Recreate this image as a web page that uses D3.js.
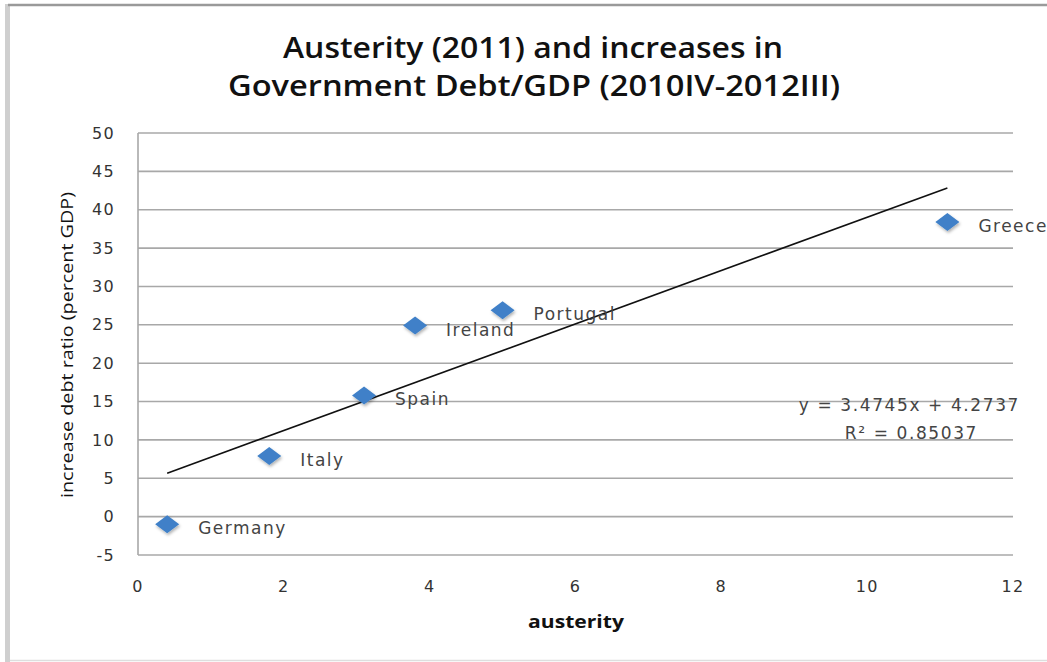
<!DOCTYPE html>
<meta charset="utf-8">
<style>
  body { margin: 0; background: #fff; }
  svg { display: block; }
  .grid line { stroke: #a8a8a8; stroke-width: 1.6px; }
  .tick-label { font-family: "DejaVu Sans", sans-serif; font-size: 16px; fill: #333; letter-spacing: 1.3px; }
  .title { font-family: "Open Sans", sans-serif; font-weight: 600; font-size: 29px; fill: #111; }
  .axis-title { font-family: "Open Sans", sans-serif; font-size: 17px; fill: #111; }
  .point-label { font-family: "DejaVu Sans", sans-serif; font-size: 17px; fill: #444; letter-spacing: 1.5px; }
  .trend { fill: none; stroke: #111; stroke-width: 1.6px; }
  .eq { font-family: "DejaVu Sans", sans-serif; font-size: 17px; fill: #444; letter-spacing: 1.6px; }
</style>
<svg width="1047" height="662"></svg>
<script src="https://d3js.org/d3.v7.min.js"></script>
<script>
  // data
  var countries = ["Germany", "Italy", "Spain", "Ireland", "Portugal", "Greece"];
  var austerity = [0.4, 1.8, 3.1, 3.8, 5.0, 11.1];
  var debtIncrease = [-1.0, 7.9, 15.8, 24.9, 26.9, 38.4];
  var xTicks = [0, 2, 4, 6, 8, 10, 12];
  var yTicks = [-5, 0, 5, 10, 15, 20, 25, 30, 35, 40, 45, 50];
  var slope = 3.4745, intercept = 4.2737, r2 = "0.85037";

  var svg = d3.select("svg");

  var x = d3.scaleLinear().domain([0, 12]).range([138, 1013]);
  var y = d3.scaleLinear().domain([-5, 50]).range([555, 133]);

  // frame of the chart box
  svg.append("line").attr("x1", 7.5).attr("x2", 7.5).attr("y1", 4).attr("y2", 662)
    .attr("stroke", "#cfcfcf").attr("stroke-width", 5);
  svg.append("line").attr("x1", 8).attr("x2", 1047).attr("y1", 5).attr("y2", 5)
    .attr("stroke", "#9a9a9a").attr("stroke-width", 2.5);
  svg.append("line").attr("x1", 10).attr("x2", 1047).attr("y1", 660.5).attr("y2", 660.5)
    .attr("stroke", "#dedede").attr("stroke-width", 1.5);

  var defs = svg.append("defs");
  var f = defs.append("filter").attr("id", "shadow")
    .attr("x", "-50%").attr("y", "-50%").attr("width", "200%").attr("height", "200%");
  f.append("feDropShadow").attr("dx", 1).attr("dy", 2).attr("stdDeviation", 1.5)
    .attr("flood-color", "#000").attr("flood-opacity", 0.3);

  // gridlines
  svg.append("g").attr("class", "grid")
    .selectAll("line").data(yTicks).join("line")
    .attr("x1", x(0)).attr("x2", x(12))
    .attr("y1", d => y(d)).attr("y2", d => y(d));
  svg.append("g").attr("class", "grid").append("line")
    .attr("x1", x(0)).attr("x2", x(0)).attr("y1", y(50)).attr("y2", y(-5));

  // tick labels
  svg.append("g").selectAll("text").data(yTicks).join("text")
    .attr("class", "tick-label")
    .attr("x", x(0) - 23).attr("y", d => y(d)).attr("dy", "0.35em")
    .attr("text-anchor", "end").text(d => d);
  svg.append("g").selectAll("text").data(xTicks).join("text")
    .attr("class", "tick-label")
    .attr("x", d => x(d)).attr("y", 592)
    .attr("text-anchor", "middle").text(d => d);

  // titles
  svg.append("text").attr("class", "title").attr("x", 533).attr("y", 58)
    .attr("text-anchor", "middle").attr("textLength", 500).attr("lengthAdjust", "spacingAndGlyphs")
    .text("Austerity (2011) and increases in");
  svg.append("text").attr("class", "title").attr("x", 534).attr("y", 96)
    .attr("text-anchor", "middle").attr("textLength", 612).attr("lengthAdjust", "spacingAndGlyphs")
    .text("Government Debt/GDP (2010IV-2012III)");
  svg.append("text").attr("class", "axis-title").attr("font-weight", 700)
    .attr("x", 576).attr("y", 628).attr("text-anchor", "middle")
    .attr("textLength", 96).attr("lengthAdjust", "spacingAndGlyphs")
    .text("austerity");
  svg.append("text").attr("class", "axis-title").attr("font-weight", 500)
    .attr("transform", "translate(73,345) rotate(-90)")
    .attr("text-anchor", "middle").attr("textLength", 306).attr("lengthAdjust", "spacingAndGlyphs")
    .text("increase debt ratio (percent GDP)");

  // trendline
  var x0 = d3.min(austerity), x1 = d3.max(austerity);
  svg.append("path").attr("class", "trend")
    .attr("d", d3.line()([[x(x0), y(slope * x0 + intercept)], [x(x1), y(slope * x1 + intercept)]]));

  // points
  var pts = countries.map((c, i) => ({ name: c, ax: austerity[i], dv: debtIncrease[i] }));
  svg.append("g").selectAll("path").data(pts).join("path")
    .attr("transform", d => "translate(" + x(d.ax) + "," + y(d.dv) + ")")
    .attr("d", "M0,-9L12,0L0,9L-12,0Z")
    .attr("fill", "#3f80c8").attr("filter", "url(#shadow)");

  svg.append("g").selectAll("text").data(pts).join("text")
    .attr("class", "point-label")
    .attr("x", d => x(d.ax) + 31).attr("y", d => y(d.dv) + 4).attr("dy", "0.35em")
    .text(d => d.name);

  // regression equation
  svg.append("text").attr("class", "eq").attr("x", 1020).attr("y", 411)
    .attr("text-anchor", "end").text("y = " + slope + "x + " + intercept);
  svg.append("text").attr("class", "eq").attr("x", 978).attr("y", 439)
    .attr("text-anchor", "end").text("R² = " + r2);
</script>
